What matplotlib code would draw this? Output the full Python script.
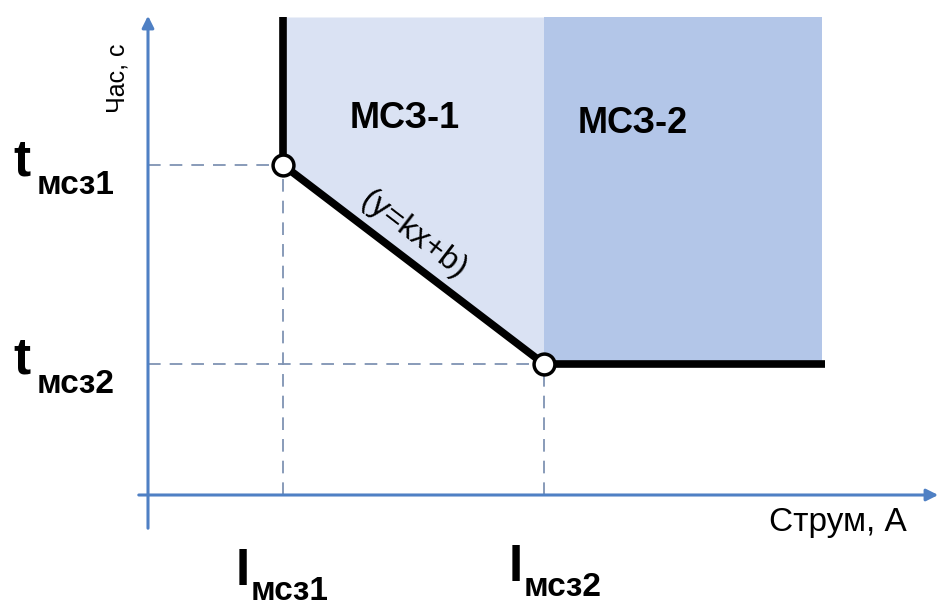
import numpy as np
import matplotlib
matplotlib.use('Agg')
import matplotlib.pyplot as plt

plt.rcParams['font.family'] = ['Liberation Sans', 'DejaVu Sans']

# Setting points (current I, time t), arbitrary units
current_points = [1.35, 3.96]
time_points = [3.30, 1.31]

# Protection characteristic (black polyline)
curve_x = [1.35, 1.35, 3.96, 6.77]
curve_y = [4.78, 3.30, 1.31, 1.31]

# Zone borders
zone_top = 4.78
zone_right = 6.74

zone_names = ['МСЗ-1', 'МСЗ-2']
current_labels = ['мсз1', 'мсз2']
time_labels = ['мсз1', 'мсз2']

light_blue = '#dae2f3'
dark_blue = '#b3c6e8'
axis_blue = '#4f80c4'
dash_grey = '#7f93b3'

fig = plt.figure(figsize=(9.44, 6.07), dpi=100)
ax = fig.add_axes([0, 0, 1, 1])
ax.set_xlim(-1.48, 7.96)
ax.set_ylim(-1.12, 4.95)
ax.axis('off')

# Zone МСЗ-1: between I1 and I2, above the sloped line
ax.fill_between([curve_x[1], curve_x[2]], [curve_y[1], curve_y[2]], zone_top,
                color=light_blue, lw=0, zorder=1)
# Zone МСЗ-2: right of I2, above t2
ax.fill_between([current_points[1], zone_right], time_points[1], zone_top,
                color=dark_blue, lw=0, zorder=1)

# Dashed guide lines
for cx, ty in zip(current_points, time_points):
    ax.plot([0, cx], [ty, ty], ls=(0, (7, 5)), color=dash_grey, lw=1.3, zorder=2)
    ax.plot([cx, cx], [0, ty], ls=(0, (7, 5)), color=dash_grey, lw=1.3, zorder=2)

# Axes arrows
ax.annotate('', xy=(7.93, 0), xytext=(-0.12, 0),
            arrowprops=dict(arrowstyle='-|>,head_length=0.7,head_width=0.35',
                            color=axis_blue, lw=2.2), zorder=3)
ax.annotate('', xy=(0, 4.82), xytext=(0, -0.36),
            arrowprops=dict(arrowstyle='-|>,head_length=0.7,head_width=0.35',
                            color=axis_blue, lw=2.2), zorder=3)

# Characteristic
ax.plot(curve_x, curve_y, color='black', lw=5.5, solid_capstyle='butt', zorder=4)
ax.plot(current_points, time_points, 'o', ms=15, mfc='white', mec='black', mew=2.5, zorder=5)

# Zone labels
ax.text(2.57, 3.77, zone_names[0], fontsize=26, fontweight='bold', ha='center', va='center', zorder=6)
ax.text(4.85, 3.72, zone_names[1], fontsize=26, fontweight='bold', ha='center', va='center', zorder=6)

# Line equation along the slope
ax.text(2.66, 2.60, '(y=kx+b)', fontsize=23, rotation=-37.5, ha='center', va='center',
        rotation_mode='anchor', zorder=6)

# Axis titles
ax.text(-0.30, 4.17, 'Час, с', fontsize=18, rotation=90, ha='center', va='center')
ax.text(6.90, -0.28, 'Струм, А', fontsize=24, ha='center', va='center')

# Time setting labels (left)
for ty, lab in zip(time_points, time_labels):
    ax.text(-1.35, ty - 0.10, 't', fontsize=37, fontweight='bold', ha='left', va='baseline')
    ax.text(-1.11, ty - 0.29, lab, fontsize=24, fontweight='bold', ha='left', va='baseline')

# Current setting labels (bottom)
current_offsets = [(-0.47, 0.0), (-0.35, 0.04)]
for cx, lab, (dx, dy) in zip(current_points, current_labels, current_offsets):
    ax.text(cx + dx, -0.90 + dy, 'I', fontsize=37, fontweight='bold', ha='left', va='baseline')
    ax.text(cx + dx + 0.15, -1.05 + dy, lab, fontsize=24, fontweight='bold', ha='left', va='baseline')

fig.savefig('out.png', dpi=100)
